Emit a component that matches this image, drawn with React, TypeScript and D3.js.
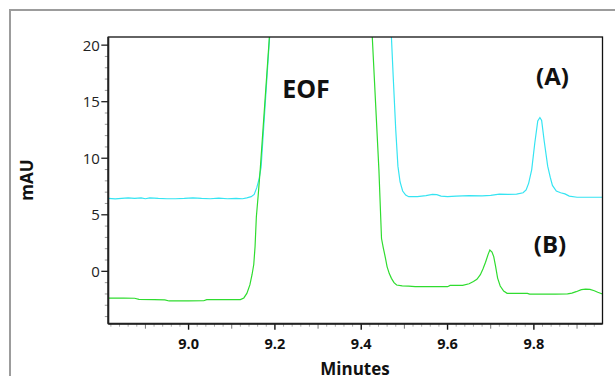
import React from "react";
import * as d3 from "d3";

const timeA = [8.814, 8.83, 8.845, 8.86, 8.875, 8.89, 8.9, 8.91, 8.93, 8.95, 8.97, 8.99, 9.01, 9.03, 9.05, 9.07, 9.09, 9.11, 9.125, 9.135, 9.145, 9.152, 9.158, 9.163, 9.168, 9.195, 9.3, 9.455, 9.467, 9.474, 9.48, 9.485, 9.49, 9.496, 9.503, 9.51, 9.53, 9.55, 9.565, 9.575, 9.585, 9.6, 9.62, 9.65, 9.68, 9.7, 9.72, 9.74, 9.76, 9.775, 9.782, 9.788, 9.795, 9.802, 9.809, 9.814, 9.818, 9.824, 9.832, 9.838, 9.843, 9.852, 9.862, 9.872, 9.882, 9.9, 9.93, 9.959];
const valueA = [6.45, 6.4, 6.45, 6.5, 6.45, 6.5, 6.42, 6.5, 6.45, 6.42, 6.42, 6.45, 6.5, 6.45, 6.42, 6.48, 6.42, 6.45, 6.42, 6.5, 6.6, 6.8, 7.4, 8.1, 9.2, 25, 38, 30, 23.2, 17.3, 12.5, 9.3, 7.9, 7.1, 6.75, 6.6, 6.6, 6.7, 6.8, 6.78, 6.65, 6.6, 6.65, 6.7, 6.68, 6.72, 6.82, 6.8, 6.82, 6.95, 7.2, 7.8, 9.0, 11.3, 13.3, 13.6, 13.35, 11.5, 9.3, 8.3, 7.6, 7.1, 6.95, 6.85, 6.65, 6.55, 6.55, 6.55];

const timeB = [8.814, 8.85, 8.875, 8.885, 8.92, 8.945, 8.955, 9.0, 9.035, 9.042, 9.08, 9.12, 9.128, 9.135, 9.142, 9.147, 9.151, 9.154, 9.157, 9.161, 9.166, 9.195, 9.3, 9.42, 9.441, 9.447, 9.451, 9.456, 9.46, 9.465, 9.47, 9.476, 9.482, 9.495, 9.51, 9.525, 9.56, 9.6, 9.606, 9.635, 9.65, 9.66, 9.668, 9.676, 9.682, 9.688, 9.694, 9.698, 9.703, 9.707, 9.711, 9.716, 9.722, 9.73, 9.738, 9.76, 9.785, 9.79, 9.85, 9.878, 9.888, 9.898, 9.91, 9.92, 9.93, 9.94, 9.948, 9.959];
const valueB = [-2.36, -2.36, -2.38, -2.48, -2.5, -2.52, -2.62, -2.62, -2.6, -2.5, -2.5, -2.5, -2.35, -1.95, -1.2, -0.3, 0.6, 2.17, 4.8, 6.6, 9.0, 25, 38, 25, 8.95, 2.9, 2.1, 1.2, 0.4, -0.2, -0.62, -1.0, -1.21, -1.28, -1.3, -1.36, -1.36, -1.36, -1.25, -1.24, -1.1, -0.9, -0.7, -0.3, 0.2, 0.8, 1.5, 1.88, 1.7, 1.3, 0.5, -0.6, -1.3, -1.75, -1.94, -1.94, -1.95, -2.02, -2.02, -2.0, -1.92, -1.8, -1.62, -1.58, -1.6, -1.72, -1.85, -2.0];

const xTickLabels = ["9.0", "9.2", "9.4", "9.6", "9.8"];
const yTickLabels = ["0", "5", "10", "15", "20"];
const annotations = ["EOF", "(A)", "(B)"];

const W = 615, H = 376;
const L = 108.3, R = 602.5, T = 37, B = 323.7;
const font = "'Open Sans', 'Liberation Sans', sans-serif";

export default function App() {
  const x = d3.scaleLinear().domain([8.814, 9.959]).range([L, R]);
  const y = d3.scaleLinear().domain([-4.63, 20.72]).range([B, T]);
  const line = d3.line<[number, number]>().x(d => x(d[0])).y(d => y(d[1]));
  const dataA = timeA.map((t, i) => [t, valueA[i]] as [number, number]);
  const dataB = timeB.map((t, i) => [t, valueB[i]] as [number, number]);

  const xMinor = d3.range(441, 498).map(i => i * 0.02).filter(v => v >= 8.814 && v <= 9.959);
  const yMinor = d3.range(-4, 21);

  return (
    <svg width={W} height={H} style={{ position: "absolute", left: 0, top: 0, background: "#fff" }}>
      <defs>
        <clipPath id="plot"><rect x={L} y={T} width={R - L} height={B - T} /></clipPath>
      </defs>
      <rect x={10} y={10} width={640} height={400} fill="none" stroke="#9c9c9c" strokeWidth={2} />
      {yMinor.map(v => {
        const major = v % 5 === 0;
        return <line key={"ym" + v} x1={L - (major ? 7 : 3.5)} x2={L} y1={y(v)} y2={y(v)} stroke={major ? "#222" : "#999"} strokeWidth={major ? 1.3 : 1} />;
      })}
      {yTickLabels.map(s => (
        <text key={"yl" + s} x={L - 8.5} y={y(+s)} dy="0.36em" textAnchor="end" fontFamily={font} fontSize={15} fill="#222">{s}</text>
      ))}
      {xMinor.map((v, i) => {
        const k = Math.round(v * 50);
        const major = k % 10 === 0;
        const mid = !major && k % 5 === 0;
        const len = major ? 6 : mid ? 5 : 3;
        return <line key={"xm" + i} x1={x(v)} x2={x(v)} y1={B} y2={B + len} stroke={major ? "#111" : mid ? "#777" : "#aaa"} strokeWidth={major ? 1.4 : 1} />;
      })}
      {xTickLabels.map(s => (
        <text key={"xl" + s} x={x(+s)} y={348.5} textAnchor="middle" fontFamily={font} fontWeight="bold" fontSize={14.5} fill="#111">{s}</text>
      ))}
      <g clipPath="url(#plot)">
        <path d={line(dataA) || ""} fill="none" stroke="#35e4f2" strokeWidth={1.2} />
        <path d={line(dataB) || ""} fill="none" stroke="#2fdc2f" strokeWidth={1.2} />
      </g>
      <rect x={L} y={T} width={R - L} height={B - T} fill="none" stroke="#111" strokeWidth={1.3} />
      <line x1={L} x2={L} y1={T} y2={B} stroke="#222" strokeWidth={2} />
      <line x1={L} x2={R} y1={B} y2={B} stroke="#222" strokeWidth={2} />
      <text x={306} y={98} textAnchor="middle" fontFamily={font} fontWeight="bold" fontSize={25} fill="#111">{annotations[0]}</text>
      <text x={552.5} y={84.5} textAnchor="middle" fontFamily={font} fontWeight="bold" fontSize={24} fill="#111">{annotations[1]}</text>
      <text x={550} y={253.3} textAnchor="middle" fontFamily={font} fontWeight="bold" fontSize={24} fill="#111">{annotations[2]}</text>
      <text x={355} y={374.5} textAnchor="middle" fontFamily={font} fontWeight="bold" fontSize={17} fill="#111">Minutes</text>
      <text transform="translate(33.3,180) rotate(-90)" textAnchor="middle" fontFamily={font} fontWeight="bold" fontSize={17} fill="#111">mAU</text>
    </svg>
  );
}
